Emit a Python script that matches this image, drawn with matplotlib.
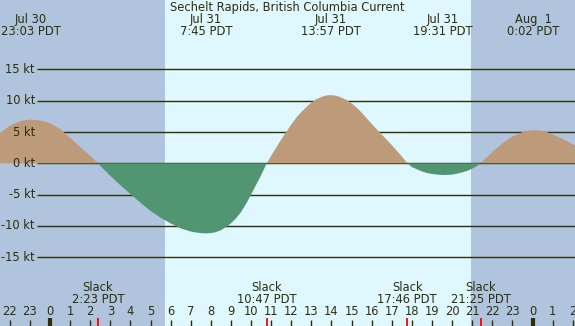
"""
Sechelt Rapids tidal current chart, Jul 30 - Aug 1.
Flood (positive) in tan, ebb (negative) in green, night shaded.
"""

import matplotlib
matplotlib.use("Agg")
import matplotlib.pyplot as plt

# hours since Jul 31 00:00 PDT, current speed in knots
hours = [-2.5, -2.0, -1.5, -1.25, -0.95, -0.5, -0.25, 0.0, 0.5, 1.0, 1.5, 2.0, 2.38,
         2.5, 3.0, 3.5, 4.0, 4.5, 5.0, 5.5, 6.0, 6.5, 7.0, 7.25, 7.5, 7.75,
         8.0, 8.25, 8.5, 8.75, 9.0, 9.25, 9.5, 9.75, 10.0, 10.5, 10.78,
         11.0, 11.25, 11.5, 12.0, 12.25, 12.5, 12.75, 13.0, 13.25, 13.5, 13.75, 13.95,
         14.25, 14.5, 14.75, 15.0, 15.25, 15.5, 15.75, 16.0, 16.5, 17.0, 17.5, 17.77,
         18.0, 18.25, 18.5, 18.75, 19.0, 19.25, 19.52, 19.75, 20.0, 20.25, 20.5,
         20.75, 21.0, 21.25, 21.42,
         22.0, 22.5, 23.0, 23.5, 23.75, 24.03, 24.25, 24.5, 24.75, 25.0, 25.5,
         26.0, 26.2]
speed = [4.8, 6.0, 6.7, 6.9, 7.0, 6.85, 6.65, 6.4, 5.5, 4.1, 2.6, 1.2, 0.0,
         -0.4, -2.0, -3.5, -4.9, -6.3, -7.6, -8.7, -9.6, -10.4, -10.9, -11.05, -11.15, -11.2,
         -11.15, -11.0, -10.7, -10.2, -9.6, -8.8, -7.8, -6.5, -5.0, -1.9, 0.0,
         1.2, 2.5, 3.8, 6.2, 7.3, 8.2, 9.0, 9.7, 10.25, 10.6, 10.85, 10.9,
         10.8, 10.5, 10.1, 9.6, 8.9, 8.1, 7.2, 6.3, 4.6, 2.9, 1.1, 0.0,
         -0.6, -0.95, -1.3, -1.55, -1.7, -1.8, -1.87, -1.85, -1.8, -1.65, -1.45,
         -1.2, -0.85, -0.4, 0.0,
         1.8, 3.2, 4.3, 5.0, 5.2, 5.3, 5.27, 5.15, 4.95, 4.6, 3.9,
         3.0, 2.8]

# max current events (top labels)
max_times = [-0.95, 7.75, 13.95, 19.52, 24.03]
max_days = ["Jul 30", "Jul 31", "Jul 31", "Jul 31", "Aug  1"]
max_clock = ["23:03 PDT", "7:45 PDT", "13:57 PDT", "19:31 PDT", "0:02 PDT"]

# slack water events (bottom labels)
slack_times = [2.38, 10.78, 17.77, 21.42]
slack_clock = ["2:23 PDT", "10:47 PDT", "17:46 PDT", "21:25 PDT"]

sunrise, sunset = 5.72, 20.93
grid_levels = [-15, -10, -5, 0, 5, 10, 15]
hour_ticks = list(range(-2, 27))

NIGHT = "#B0C4DE"
DAY = "#DFF7FF"
FLOOD = "#BC9A7A"
EBB = "#519572"
INK = "#2e2e08"
FS = 8.3

XMIN, XMAX = -2.486, 26.11
YMIN, YMAX = -26.0, 26.1


def plot_chart():
    fig = plt.figure(figsize=(5.75, 3.26), dpi=100)
    ax = fig.add_axes([0, 0, 1, 1])
    ax.set_xlim(XMIN, XMAX)
    ax.set_ylim(YMIN, YMAX)
    ax.axis("off")

    # night / day background
    ax.axvspan(XMIN, sunrise, color=NIGHT, lw=0, zorder=0)
    ax.axvspan(sunrise, sunset, color=DAY, lw=0, zorder=0)
    ax.axvspan(sunset, XMAX, color=NIGHT, lw=0, zorder=0)

    # speed grid
    ax.hlines(grid_levels, -0.65, XMAX, color=INK, lw=1, zorder=2)
    for lev in grid_levels:
        ax.text(-0.75, lev, f"{lev} kt", ha="right", va="center",
                fontsize=FS, color=INK, zorder=5)

    # flood / ebb fills
    ax.fill_between(hours, speed, 0, where=[s >= 0 for s in speed],
                    interpolate=True, color=FLOOD, lw=0, zorder=3)
    ax.fill_between(hours, speed, 0, where=[s <= 0 for s in speed],
                    interpolate=True, color=EBB, lw=0, zorder=3)

    # hour ticks along the bottom
    for h in hour_ticks:
        if h % 24 == 0:
            ax.vlines(h, YMIN, -24.7, color=INK, lw=3, zorder=4)
        else:
            ax.vlines(h, YMIN, -25.0, color=INK, lw=1, zorder=4)
        ax.text(h, -23.7, str(h % 24), ha="center", va="center",
                fontsize=FS, color=INK, zorder=5)

    # slack markers
    for t, lab in zip(slack_times, slack_clock):
        ax.vlines(t, YMIN, -24.7, color="red", lw=1.3, zorder=4)
        ax.text(t, -19.8, "Slack", ha="center", va="center",
                fontsize=FS, color=INK, zorder=5)
        ax.text(t, -21.7, lab, ha="center", va="center",
                fontsize=FS, color=INK, zorder=5)

    # max current labels
    for t, day, clk in zip(max_times, max_days, max_clock):
        ax.text(t, 23.0, day, ha="center", va="center",
                fontsize=FS, color=INK, zorder=5)
        ax.text(t, 21.0, clk, ha="center", va="center",
                fontsize=FS, color=INK, zorder=5)

    ax.text((XMIN + XMAX) / 2, 24.9, "Sechelt Rapids, British Columbia Current",
            ha="center", va="center", fontsize=FS, color=INK, zorder=5)

    fig.savefig("out.png", dpi=100)


if __name__ == "__main__":
    plot_chart()
